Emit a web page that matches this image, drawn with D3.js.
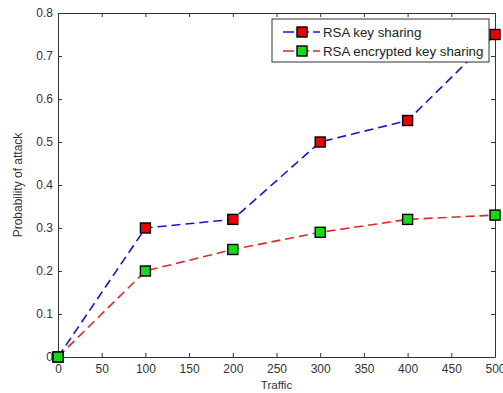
<!DOCTYPE html>
<html><head><meta charset="utf-8">
<script src="https://cdn.jsdelivr.net/npm/d3@7"></script>
<style>body{margin:0;background:#fff}svg{display:block}text{font-family:"Liberation Sans",Arial,sans-serif}</style>
</head><body>
<script>
const traffic = [0, 100, 200, 300, 400, 500];
const rsaKeySharing = [0, 0.30, 0.32, 0.50, 0.55, 0.75];
const rsaEncryptedKeySharing = [0, 0.20, 0.25, 0.29, 0.32, 0.33];
const xTicks = [0, 50, 100, 150, 200, 250, 300, 350, 400, 450, 500];
const yTicks = [0, 0.1, 0.2, 0.3, 0.4, 0.5, 0.6, 0.7, 0.8];
const seriesNames = ["RSA key sharing", "RSA encrypted key sharing"];

const W = 503, H = 393;
const m = {left: 58, right: 8, top: 13, bottom: 36};
const svg = d3.select("body").append("svg").attr("width", W).attr("height", H);
const x = d3.scaleLinear().domain([0, 500]).range([m.left, W - m.right]);
const y = d3.scaleLinear().domain([0, 0.8]).range([H - m.bottom, m.top]);
const ink = "#333";

const fmt = d => d === 0 ? "0" : d3.format(".1f")(d);
const gx = svg.append("g").attr("transform", `translate(0,${y(0)})`)
  .call(d3.axisBottom(x).tickValues(xTicks).tickSizeInner(-4).tickSizeOuter(0).tickPadding(7));
const gy = svg.append("g").attr("transform", `translate(${x(0)},0)`)
  .call(d3.axisLeft(y).tickValues(yTicks).tickFormat(fmt).tickSizeInner(-4).tickSizeOuter(0).tickPadding(5));
const gt = svg.append("g").attr("transform", `translate(0,${y(0.8)})`)
  .call(d3.axisTop(x).tickValues(xTicks).tickFormat("").tickSizeInner(-4).tickSizeOuter(0));
const gr = svg.append("g").attr("transform", `translate(${x(500)},0)`)
  .call(d3.axisRight(y).tickValues(yTicks).tickFormat("").tickSizeInner(-4).tickSizeOuter(0));
[gx, gy, gt, gr].forEach(g => {
  g.selectAll("path,line").attr("stroke", ink);
  g.selectAll("text").attr("fill", "#333").style("font-size", "12px");
});

svg.append("text").attr("x", (x(0) + x(500)) / 2).attr("y", H - 4)
  .attr("text-anchor", "middle").style("font-size", "11.5px").attr("fill", "#333").text("Traffic");
svg.append("text").attr("transform", `translate(22,${(y(0) + y(0.8)) / 2}) rotate(-90)`)
  .attr("text-anchor", "middle").style("font-size", "12px").attr("fill", "#333").text("Probability of attack");

const series = [
  {vals: rsaKeySharing, color: "#1414dc", fill: "#ee0000"},
  {vals: rsaEncryptedKeySharing, color: "#e02828", fill: "#11dd11"}
];
const line = d3.line().x((d, i) => x(traffic[i])).y(d => y(d));
series.forEach(s => {
  svg.append("path").datum(s.vals).attr("d", line).attr("fill", "none")
    .attr("stroke", s.color).attr("stroke-width", 1.6).attr("stroke-dasharray", "9,5");
});
series.forEach(s => {
  svg.selectAll(null).data(s.vals).enter().append("rect")
    .attr("x", (d, i) => x(traffic[i]) - 5).attr("y", d => y(d) - 5)
    .attr("width", 10).attr("height", 10).attr("fill", s.fill)
    .attr("stroke", "#000").attr("stroke-width", 1.4);
});

const lg = svg.append("g");
lg.append("rect").attr("x", 272).attr("y", 19).attr("width", 217).attr("height", 43)
  .attr("fill", "#fff").attr("stroke", ink).attr("stroke-width", 1);
series.forEach((s, i) => {
  const yy = 32 + i * 19;
  lg.append("line").attr("x1", 283).attr("x2", 320).attr("y1", yy).attr("y2", yy)
    .attr("stroke", s.color).attr("stroke-width", 1.6).attr("stroke-dasharray", "11,4");
  lg.append("rect").attr("x", 297).attr("y", yy - 5).attr("width", 10).attr("height", 10)
    .attr("fill", s.fill).attr("stroke", "#000").attr("stroke-width", 1.4);
  lg.append("text").attr("x", 323).attr("y", yy + 4.5).style("font-size", "13.3px")
    .attr("fill", "#222").text(seriesNames[i]);
});
</script>
</body></html>
